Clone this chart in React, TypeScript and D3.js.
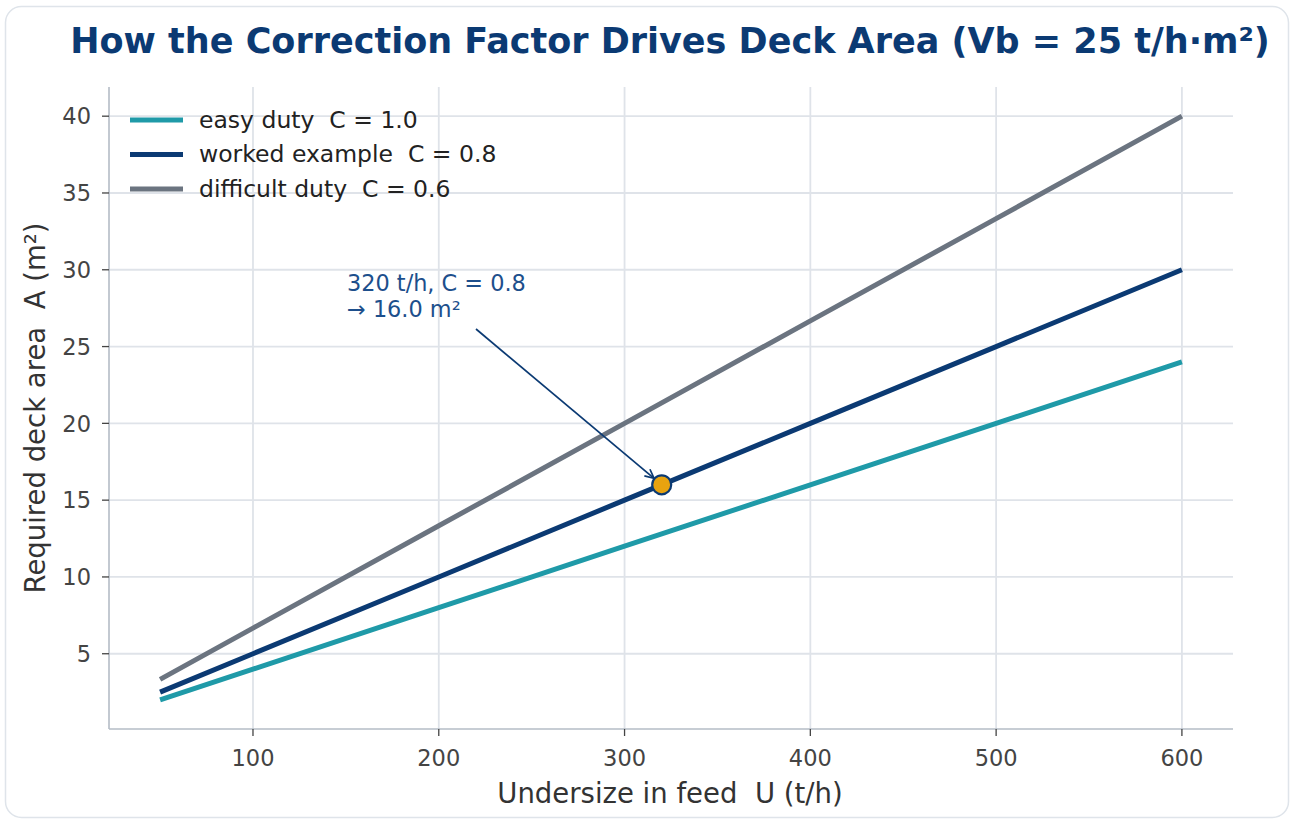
import React from "react";
import * as d3 from "d3";

const undersize = [50, 100, 200, 300, 400, 500, 600];
const easyArea = [2, 4, 8, 12, 16, 20, 24];
const workedArea = [2.5, 5, 10, 15, 20, 25, 30];
const difficultArea = [3.33, 6.67, 13.33, 20, 26.67, 33.33, 40];
const seriesNames = ["easy duty  C = 1.0", "worked example  C = 0.8", "difficult duty  C = 0.6"];
const seriesColors = ["#1f9aa8", "#0b3a73", "#6b7480"];
const xTicks = [100, 200, 300, 400, 500, 600];
const yTicks = [5, 10, 15, 20, 25, 30, 35, 40];
const highlight = { u: 320, a: 16.0 };

const W = 1291;
const H = 821;
const L = 109, R = 1233, T = 87, B = 729;

const pre = { whiteSpace: "pre" as const };

export default function App() {
  const x = d3.scaleLinear().domain([22.5, 627.5]).range([L, R]);
  const y = d3.scaleLinear().domain([0.1, 41.9]).range([B, T]);
  const series = [easyArea, workedArea, difficultArea];
  const line = d3
    .line<[number, number]>()
    .x((d) => x(d[0]))
    .y((d) => y(d[1]));
  const font = "DejaVu Sans, sans-serif";
  const hx = x(highlight.u);
  const hy = y(highlight.a);
  const ax0 = 476, ay0 = 329;
  const ang = Math.atan2(hy - ay0, hx - ax0);
  const tipX = hx - Math.cos(ang) * 10;
  const tipY = hy - Math.sin(ang) * 10;
  return (
    <svg width={W} height={H} style={{ position: "absolute", left: 0, top: 0 }} fontFamily={font}>
      <rect x={0} y={0} width={W} height={H} fill="#fff" />
      <rect x={5.5} y={6.5} width={1283} height={811} rx={16} fill="#fff" stroke="#dfe4ea" strokeWidth={1.5} />
      <text x={670} y={53} textAnchor="middle" fontSize={35} fontWeight="bold" fill="#0b3a73" style={pre}>
        How the Correction Factor Drives Deck Area (Vb = 25 t/h·m²)
      </text>
      {/* grid */}
      {xTicks.map((t) => (
        <line key={"gx" + t} x1={x(t)} x2={x(t)} y1={T} y2={B} stroke="#dfe3e9" strokeWidth={1.8} />
      ))}
      {yTicks.map((t) => (
        <line key={"gy" + t} x1={L} x2={R} y1={y(t)} y2={y(t)} stroke="#dfe3e9" strokeWidth={1.8} />
      ))}
      {/* spines */}
      <line x1={L} x2={L} y1={T} y2={B} stroke="#b4bcc6" strokeWidth={1.6} />
      <line x1={L} x2={R} y1={B} y2={B} stroke="#b4bcc6" strokeWidth={1.6} />
      {/* ticks */}
      {xTicks.map((t) => (
        <g key={"xt" + t}>
          <line x1={x(t)} x2={x(t)} y1={B} y2={B + 7} stroke="#444" strokeWidth={1.3} />
          <text x={x(t)} y={B + 37} textAnchor="middle" fontSize={22.5} fill="#444">
            {t}
          </text>
        </g>
      ))}
      {yTicks.map((t) => (
        <g key={"yt" + t}>
          <line x1={L - 7} x2={L} y1={y(t)} y2={y(t)} stroke="#444" strokeWidth={1.3} />
          <text x={L - 18} y={y(t) + 8.2} textAnchor="end" fontSize={22.5} fill="#444">
            {t}
          </text>
        </g>
      ))}
      {/* axis labels */}
      <text x={670} y={803} textAnchor="middle" fontSize={27.5} fill="#333" style={pre}>
        Undersize in feed  U (t/h)
      </text>
      <text transform={`translate(45,408) rotate(-90)`} textAnchor="middle" fontSize={27.5} fill="#333" style={pre}>
        Required deck area  A (m²)
      </text>
      {/* lines */}
      {series.map((s, i) => (
        <path
          key={"s" + i}
          d={line(undersize.map((u, j) => [u, s[j]] as [number, number])) || ""}
          fill="none"
          stroke={seriesColors[i]}
          strokeWidth={5}
          strokeLinecap="butt"
        />
      ))}
      {/* annotation */}
      <text x={347} y={291} fontSize={22.4} fill="#1d4f8c" style={pre}>
        320 t/h, C = 0.8
      </text>
      <text x={347} y={317} fontSize={22.4} fill="#1d4f8c" style={pre}>
        → 16.0 m²
      </text>
      <line x1={ax0} y1={ay0} x2={tipX} y2={tipY} stroke="#0b3a73" strokeWidth={1.7} />
      <path
        d={`M${tipX - 10 * Math.cos(ang - 0.45)},${tipY - 10 * Math.sin(ang - 0.45)} L${tipX},${tipY} L${tipX - 10 * Math.cos(ang + 0.45)},${tipY - 10 * Math.sin(ang + 0.45)}`}
        fill="none"
        stroke="#0b3a73"
        strokeWidth={1.7}
      />
      <circle cx={hx} cy={hy} r={9.5} fill="#e8a30f" stroke="#0b3a73" strokeWidth={2.2} />
      {/* legend */}
      {seriesNames.map((n, i) => (
        <g key={"lg" + i}>
          <line x1={130} x2={183} y1={120 + i * 34.5} y2={120 + i * 34.5} stroke={seriesColors[i]} strokeWidth={5} />
          <text x={199} y={127.5 + i * 34.5} fontSize={23.5} fill="#222" style={pre}>
            {n}
          </text>
        </g>
      ))}
    </svg>
  );
}
